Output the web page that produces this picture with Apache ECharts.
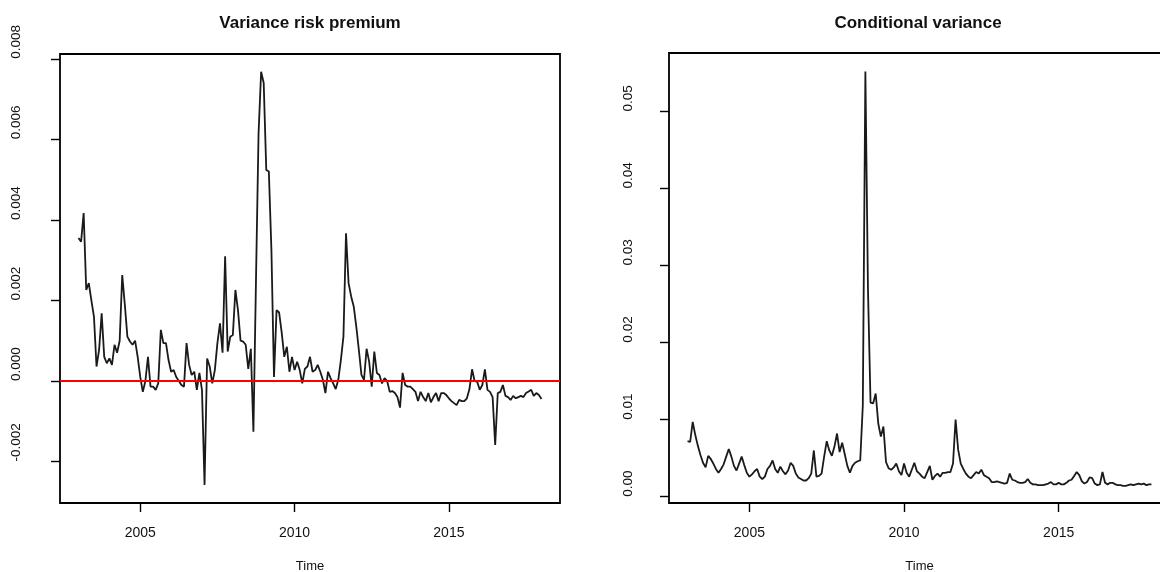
<!DOCTYPE html>
<html>
<head>
<meta charset="utf-8">
<script src="https://cdn.jsdelivr.net/npm/echarts@6/dist/echarts.min.js"></script>
<style>
html,body{margin:0;padding:0;background:#fff;}
#chart{width:1160px;height:572px;}
</style>
</head>
<body>
<div id="chart"></div>
<script>
// Monthly series, January 2003 to January 2018
const startYear = 2003;
const titles = ["Variance risk premium", "Conditional variance"];
const xTicks = [2005, 2010, 2015];
const vrpTicks = [-0.002, 0, 0.002, 0.004, 0.006, 0.008];
const cvTicks = [0, 0.01, 0.02, 0.03, 0.04, 0.05];

const vrp = [
  0.00355, 0.00346, 0.00417, 0.00226, 0.00243, 0.00200, 0.00160, 0.00036, 0.00077, 0.00168,
  0.00060, 0.00044, 0.00056, 0.00040, 0.00090, 0.00070, 0.00100, 0.00263, 0.00190, 0.00110,
  0.00098, 0.00090, 0.00100, 0.00060, 0.00010, -0.00027, 0.00000, 0.00060, -0.00014, -0.00014,
  -0.00022, -0.00006, 0.00127, 0.00094, 0.00094, 0.00052, 0.00023, 0.00027, 0.00010, 0.00000,
  -0.00010, -0.00014, 0.00094, 0.00040, 0.00015, 0.00023, -0.00022, 0.00020, -0.00022, -0.00258,
  0.00056, 0.00036, -0.00006, 0.00027, 0.00094, 0.00143, 0.00070, 0.00310, 0.00073, 0.00110,
  0.00114, 0.00226, 0.00176, 0.00100, 0.00098, 0.00090, 0.00030, 0.00080, -0.00126, 0.00250,
  0.00615, 0.00768, 0.00740, 0.00524, 0.00520, 0.00325, 0.00010, 0.00176, 0.00170, 0.00120,
  0.00060, 0.00085, 0.00023, 0.00060, 0.00027, 0.00048, 0.00027, -0.00006, 0.00030, 0.00036,
  0.00060, 0.00023, 0.00027, 0.00040, 0.00023, 0.00003, -0.00030, 0.00023, 0.00007, -0.00006,
  -0.00020, 0.00003, 0.00052, 0.00110, 0.00367, 0.00243, 0.00210, 0.00185, 0.00135, 0.00077,
  0.00015, 0.00003, 0.00080, 0.00048, -0.00014, 0.00073, 0.00020, 0.00015, -0.00006, 0.00007,
  0.00000, -0.00027, -0.00025, -0.00030, -0.00040, -0.00066, 0.00020, -0.00010, -0.00014, -0.00014,
  -0.00020, -0.00027, -0.00050, -0.00027, -0.00040, -0.00050, -0.00030, -0.00053, -0.00040, -0.00030,
  -0.00050, -0.00030, -0.00030, -0.00035, -0.00043, -0.00050, -0.00055, -0.00060, -0.00047, -0.00050,
  -0.00050, -0.00043, -0.00020, 0.00029, 0.00000, -0.00002, -0.00022, -0.00010, 0.00029, -0.00022,
  -0.00027, -0.00040, -0.00159, -0.00030, -0.00027, -0.00010, -0.00037, -0.00040, -0.00047, -0.00037,
  -0.00043, -0.00040, -0.00037, -0.00040, -0.00030, -0.00026, -0.00022, -0.00037, -0.00030, -0.00035,
  -0.00045
];

const condVar = [
  0.0072, 0.0071, 0.0097, 0.0080, 0.0066, 0.0054, 0.0044, 0.0038, 0.0053, 0.0049,
  0.0043, 0.0036, 0.0031, 0.0036, 0.0042, 0.0052, 0.0062, 0.0052, 0.0040, 0.0034,
  0.0043, 0.0052, 0.0041, 0.0031, 0.0026, 0.0029, 0.0033, 0.0036, 0.0026, 0.0023,
  0.0026, 0.0036, 0.0040, 0.0047, 0.0036, 0.0031, 0.0039, 0.0033, 0.0029, 0.0034,
  0.0044, 0.0040, 0.0030, 0.0025, 0.0023, 0.0021, 0.0021, 0.0024, 0.0030, 0.0060,
  0.0026, 0.0027, 0.0030, 0.0052, 0.0072, 0.0060, 0.0053, 0.0065, 0.0082, 0.0058,
  0.0070, 0.0055, 0.0040, 0.0031, 0.0040, 0.0044, 0.0046, 0.0047, 0.0118, 0.0552,
  0.0270, 0.0122, 0.0121, 0.0134, 0.0095, 0.0078, 0.0091, 0.0045, 0.0037, 0.0035,
  0.0038, 0.0043, 0.0033, 0.0028, 0.0043, 0.0031, 0.0026, 0.0035, 0.0044, 0.0033,
  0.0030, 0.0026, 0.0024, 0.0032, 0.0040, 0.0022, 0.0027, 0.0030, 0.0026, 0.0031,
  0.0031, 0.0032, 0.0032, 0.0043, 0.0100, 0.0061, 0.0043, 0.0036, 0.0030, 0.0026,
  0.0024, 0.0028, 0.0032, 0.0030, 0.0035, 0.0028, 0.0026, 0.0024, 0.0019, 0.0019,
  0.0020, 0.0019, 0.0018, 0.0017, 0.0018, 0.0030, 0.0022, 0.0021, 0.0019, 0.0018,
  0.0018, 0.0019, 0.0023, 0.0018, 0.0016, 0.0016, 0.0015, 0.0015, 0.0015, 0.0016,
  0.0017, 0.0019, 0.0016, 0.0016, 0.0018, 0.0016, 0.0016, 0.0018, 0.0021, 0.0022,
  0.0027, 0.0032, 0.0028, 0.0020, 0.0017, 0.0019, 0.0025, 0.0024, 0.0017, 0.0015,
  0.0016, 0.0032, 0.0018, 0.0016, 0.0018, 0.0018, 0.0016, 0.0015, 0.0015, 0.0014,
  0.0014, 0.0015, 0.0016, 0.0015, 0.0016, 0.0017, 0.0016, 0.0017, 0.0015, 0.0016,
  0.0016
];

const toPairs = arr => arr.map((v, i) => [startYear + i / 12, v]);

const FONT = '"Liberation Sans", Arial, sans-serif';
const black = '#000';

function xAxisFor(gridIndex) {
  return {
    type: 'value', gridIndex: gridIndex, min: 2002.4, max: 2018.6,
    name: 'Time', nameLocation: 'middle', nameGap: 57,
    nameTextStyle: { fontFamily: FONT, fontSize: 13, color: '#111' },
    axisLine: { show: false, onZero: false },
    splitLine: { show: false },
    axisTick: { show: true, customValues: xTicks, length: 9, inside: false,
      lineStyle: { color: black, width: 1.4 } },
    axisLabel: { customValues: xTicks, margin: 23, fontFamily: FONT, fontSize: 14,
      color: '#111', formatter: v => String(Math.round(v)) }
  };
}

function yAxisFor(gridIndex, min, max, ticks, digits, margin) {
  return {
    type: 'value', gridIndex: gridIndex, min: min, max: max,
    axisLine: { show: false, onZero: false },
    splitLine: { show: false },
    axisTick: { show: true, customValues: ticks, length: 9,
      lineStyle: { color: black, width: 1.4 } },
    axisLabel: { customValues: ticks, rotate: 90, margin: margin,
      align: 'left', verticalAlign: 'bottom',
      fontFamily: FONT, fontSize: 13.5, color: '#111',
      formatter: v => Number(v).toFixed(digits) }
  };
}

const chart = echarts.init(document.getElementById('chart'), null, { renderer: 'canvas' });
chart.setOption({
  animation: false,
  backgroundColor: '#fff',
  title: [
    { text: titles[0], left: 305, top: 10, textAlign: 'center',
      textStyle: { fontFamily: FONT, fontSize: 17, fontWeight: 'bold', color: '#111' } },
    { text: titles[1], left: 913, top: 10, textAlign: 'center',
      textStyle: { fontFamily: FONT, fontSize: 17, fontWeight: 'bold', color: '#111' } }
  ],
  grid: [
    { left: 60, top: 54, width: 500, height: 449, show: true, outerBoundsMode: 'none',
      borderColor: black, borderWidth: 1.8, backgroundColor: 'transparent' },
    { left: 669, top: 53, width: 501, height: 450, show: true, outerBoundsMode: 'none',
      borderColor: black, borderWidth: 1.8, backgroundColor: 'transparent' }
  ],
  xAxis: [xAxisFor(0), xAxisFor(1)],
  yAxis: [
    yAxisFor(0, -0.00303, 0.00812, vrpTicks, 3, 37),
    yAxisFor(1, -0.00082, 0.0576, cvTicks, 2, 34)
  ],
  series: [
    { type: 'line', xAxisIndex: 0, yAxisIndex: 0, data: toPairs(vrp),
      showSymbol: false, symbol: 'none', silent: true,
      lineStyle: { color: '#1a1a1a', width: 1.8 },
      markLine: { silent: true, symbol: ['none', 'none'], label: { show: false },
        lineStyle: { color: '#ff0000', width: 2, type: 'solid' },
        data: [{ yAxis: 0 }] } },
    { type: 'line', xAxisIndex: 1, yAxisIndex: 1, data: toPairs(condVar),
      showSymbol: false, symbol: 'none', silent: true,
      lineStyle: { color: '#1a1a1a', width: 1.8 } }
  ]
});
</script>
</body>
</html>
